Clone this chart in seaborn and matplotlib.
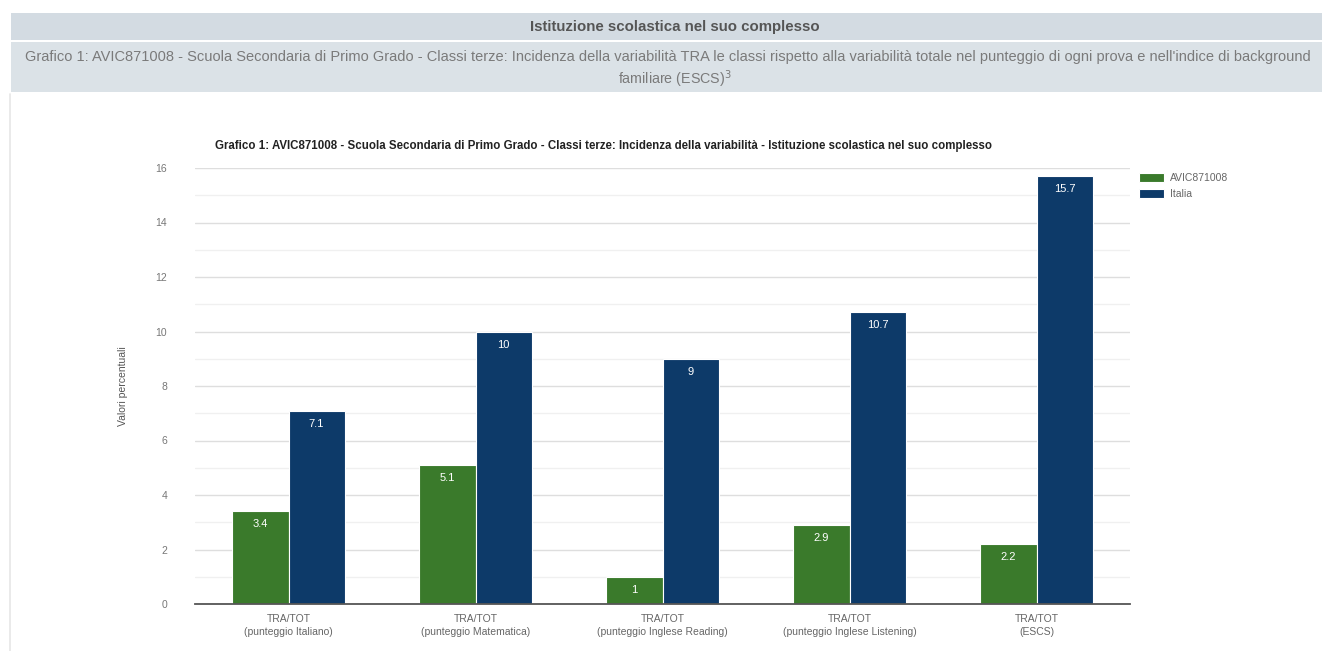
import matplotlib
matplotlib.use("Agg")
import matplotlib.pyplot as plt
import seaborn as sns
import pandas as pd
from matplotlib.patches import Rectangle
from matplotlib.lines import Line2D

categories = ["TRA/TOT\n(punteggio Italiano)", "TRA/TOT\n(punteggio Matematica)",
              "TRA/TOT\n(punteggio Inglese Reading)", "TRA/TOT\n(punteggio Inglese Listening)",
              "TRA/TOT\n(ESCS)"]
school_values = [3.4, 5.1, 1, 2.9, 2.2]
italia_values = [7.1, 10, 9, 10.7, 15.7]
series_names = ["AVIC871008", "Italia"]
colors = ["#3a7a2b", "#0d3a69"]

sns.set_theme(style="white")
plt.rcParams['font.family'] = ['Liberation Sans', 'DejaVu Sans']

df = pd.DataFrame({
    "cat": categories * 2,
    "val": school_values + italia_values,
    "serie": [series_names[0]] * 5 + [series_names[1]] * 5,
})

fig = plt.figure(figsize=(13.22, 6.51), dpi=100)
fig.patch.set_facecolor("white")

# header bands
fig.patches.append(Rectangle((0.008, 1 - 40/651), 0.992, 27/651, transform=fig.transFigure,
                             facecolor="#d3dbe2", edgecolor="none"))
fig.patches.append(Rectangle((0.008, 1 - 92/651), 0.992, 50/651, transform=fig.transFigure,
                             facecolor="#dbe2e7", edgecolor="none"))
fig.lines.append(Line2D([10/1322, 10/1322], [0, 1 - 94/651], transform=fig.transFigure,
                        color="#e6e6e6", lw=1.2))
cx = 675/1322
fig.text(cx, 1 - 27/651, "Istituzione scolastica nel suo complesso", ha="center", va="center",
         fontsize=10.8, fontweight="bold", color="#555555")
fig.text(668/1322, 1 - 57/651,
         "Grafico 1: AVIC871008 - Scuola Secondaria di Primo Grado - Classi terze: Incidenza della variabilità TRA le classi rispetto alla variabilità totale nel punteggio di ogni prova e nell'indice di background",
         ha="center", va="center", fontsize=10.5, color="#7a7a7a")
fig.text(cx, 1 - 79/651, "familiare (ESCS)$^3$", ha="center", va="center",
         fontsize=10.3, color="#7a7a7a")

ax = fig.add_axes([195/1322, 1 - 604/651, 935/1322, 436/651])
sns.barplot(data=df, x="cat", y="val", hue="serie", palette=colors, width=0.6,
            edgecolor="white", linewidth=0.8, saturation=1, ax=ax, legend=True)

ax.set_ylim(0, 16)
ax.set_yticks(range(0, 17, 2))
ax.set_yticks(range(1, 16, 2), minor=True)
ax.grid(axis="y", which="major", color="#dedede", lw=1)
ax.grid(axis="y", which="minor", color="#f0f0f0", lw=1)
ax.set_axisbelow(True)
for s in ["top", "right", "left"]:
    ax.spines[s].set_visible(False)
ax.spines["bottom"].set_color("#555555")
ax.spines["bottom"].set_linewidth(1.3)
ax.tick_params(axis="y", which="both", length=0, labelsize=7.5, labelcolor="#777777", pad=20)
ax.tick_params(axis="x", length=0, labelsize=7.5, labelcolor="#666666", pad=7)
for lbl in ax.get_xticklabels():
    lbl.set_linespacing(1.45)
ax.set_xlabel("")
ax.set_ylabel("Valori percentuali", fontsize=7.5, color="#555555", labelpad=20)

for cont in ax.containers:
    labels = [f"{b.get_height():g}" for b in cont]
    ax.bar_label(cont, labels=labels, label_type="edge", padding=-13, color="white", fontsize=8)

ax.set_title("Grafico 1: AVIC871008 - Scuola Secondaria di Primo Grado - Classi terze: Incidenza della variabilità - Istituzione scolastica nel suo complesso",
             fontsize=8.3, fontweight="bold", color="#222222", pad=14, x=0.437)

leg = ax.legend(loc="upper left", bbox_to_anchor=(1.0, 1.01), frameon=False, fontsize=7.5,
                handlelength=2.4, handleheight=1.0, labelspacing=0.55, handletextpad=0.5)
for t in leg.get_texts():
    t.set_color("#666666")

fig.savefig("out.png", dpi=100, facecolor="white")
